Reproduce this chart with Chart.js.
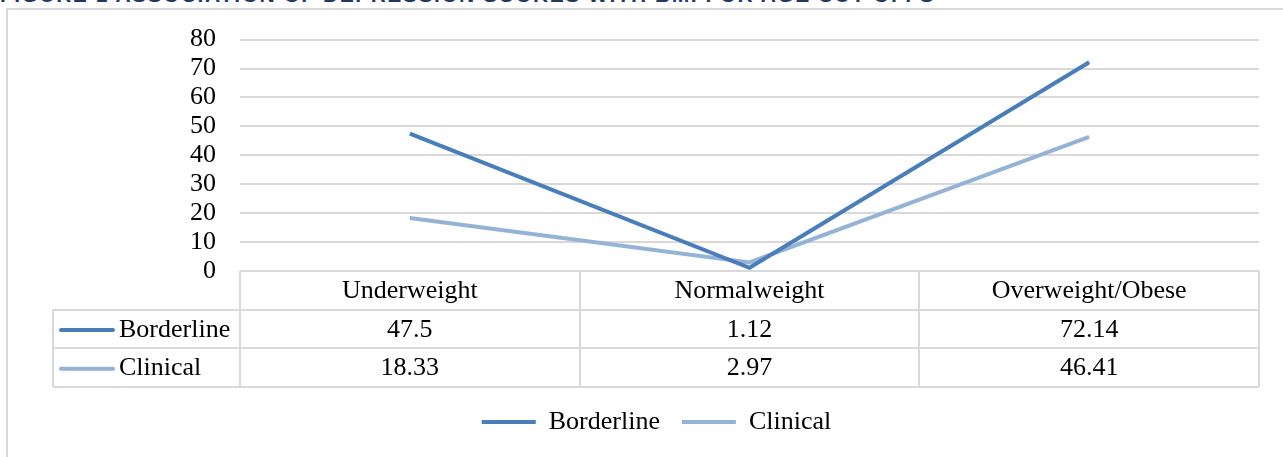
<!DOCTYPE html>
<html>
<head>
<meta charset="utf-8">
<script src="https://cdn.jsdelivr.net/npm/chart.js@4/dist/chart.umd.min.js"></script>
<style>
  html, body { margin: 0; padding: 0; background: #fff; overflow: hidden; }
  #wrap { position: relative; width: 1283px; height: 457px; }
  #title { position: absolute; left: 0; top: -16px; font: bold 21px 'Liberation Sans', sans-serif; line-height: 21px;
           letter-spacing: 1.5px; color: #1F3864; white-space: nowrap; }
  #frame { position: absolute; left: 6px; top: 8px; width: 1290px; height: 460px;
           border-left: 2px solid #d9d9d9; border-top: 2px solid #d9d9d9; }
  canvas { position: absolute; left: 0; top: 0; }
</style>
</head>
<body>
<div id="wrap">
  <div id="title">FIGURE 1 ASSOCIATION OF DEPRESSION SCORES WITH BMI FOR AGE CUT-OFFS</div>
  <div id="frame"></div>
  <canvas id="myChart" width="1283" height="457"></canvas>
</div>
<script>
var categories = ['Underweight', 'Normalweight', 'Overweight/Obese'];
var borderline = [47.5, 1.12, 72.14];
var clinical = [18.33, 2.97, 46.41];
var yTicks = [0, 10, 20, 30, 40, 50, 60, 70, 80];

var serif = "'Liberation Serif', 'Times New Roman', serif";
var gridColor = '#d9d9d9';

// data table under the plot, laid out on the x scale columns
var dataTable = {
  id: 'dataTable',
  afterDraw: function(chart) {
    var ctx = chart.ctx;
    var x = chart.scales.x;
    var area = chart.chartArea;
    var n = categories.length;
    var colW = (x.right - x.left) / n;
    var top = area.bottom;
    var rowH = (x.bottom - x.top) / 3;
    var labelLeft = 53;

    ctx.save();
    ctx.strokeStyle = gridColor;
    ctx.lineWidth = 2;
    ctx.beginPath();
    // horizontal lines
    for (var r = 1; r <= 3; r++) {
      var yy = Math.round(top + rowH * r);
      ctx.moveTo(labelLeft, yy);
      ctx.lineTo(x.right, yy);
    }
    // vertical lines
    for (var c = 0; c <= n; c++) {
      var xx = Math.round(x.left + colW * c);
      ctx.moveTo(xx, top);
      ctx.lineTo(xx, top + rowH * 3);
    }
    ctx.moveTo(labelLeft, top + rowH);
    ctx.lineTo(labelLeft, top + rowH * 3);
    ctx.stroke();

    ctx.fillStyle = '#000';
    ctx.font = '26px ' + serif;
    ctx.textBaseline = 'middle';
    ctx.textAlign = 'center';
    categories.forEach(function(cat, i) {
      ctx.fillText(cat, x.getPixelForValue(i), top + rowH / 2 + 1);
    });

    chart.data.datasets.forEach(function(ds, k) {
      var cy = top + rowH * (k + 1.5) + 1;
      ctx.strokeStyle = ds.borderColor;
      ctx.lineWidth = ds.borderWidth;
      ctx.lineCap = 'round';
      ctx.beginPath();
      ctx.moveTo(61, cy);
      ctx.lineTo(113, cy);
      ctx.stroke();
      ctx.textAlign = 'left';
      ctx.fillText(ds.label, 119, cy);
      ctx.textAlign = 'center';
      ds.data.forEach(function(v, i) {
        ctx.fillText(String(v), x.getPixelForValue(i), cy);
      });
    });
    ctx.restore();
  }
};

var ctx = document.getElementById('myChart').getContext('2d');
var myChart = new Chart(ctx, {
  type: 'line',
  data: {
    labels: categories,
    datasets: [{
      label: 'Borderline',
      data: borderline,
      borderColor: '#4A7EBB',
      backgroundColor: '#4A7EBB',
      borderWidth: 4,
      pointRadius: 0,
      tension: 0
    }, {
      label: 'Clinical',
      data: clinical,
      borderColor: '#95B3D7',
      backgroundColor: '#95B3D7',
      borderWidth: 4,
      pointRadius: 0,
      tension: 0
    }]
  },
  options: {
    responsive: false,
    animation: false,
    layout: { padding: { left: 54, right: 24, top: 37, bottom: 12 } },
    plugins: {
      legend: {
        position: 'bottom',
        labels: {
          usePointStyle: true,
          pointStyle: 'line',
          pointStyleWidth: 54,
          padding: 22,
          color: '#000',
          font: { family: serif, size: 26 }
        }
      },
      tooltip: { enabled: false }
    },
    scales: {
      x: {
        offset: true,
        grid: { display: false },
        border: { display: false },
        ticks: { display: false },
        afterFit: function(scale) { scale.height = 116; }
      },
      y: {
        min: 0,
        max: 80,
        afterBuildTicks: function(scale) {
          scale.ticks = yTicks.map(function(v) { return { value: v }; });
        },
        grid: { color: gridColor, lineWidth: 2, drawTicks: false },
        border: { display: false },
        ticks: {
          autoSkip: false,
          padding: 24,
          color: '#000',
          font: { family: serif, size: 26 }
        },
        afterFit: function(scale) { scale.width = 186; }
      }
    }
  },
  plugins: [dataTable]
});
</script>
</body>
</html>
